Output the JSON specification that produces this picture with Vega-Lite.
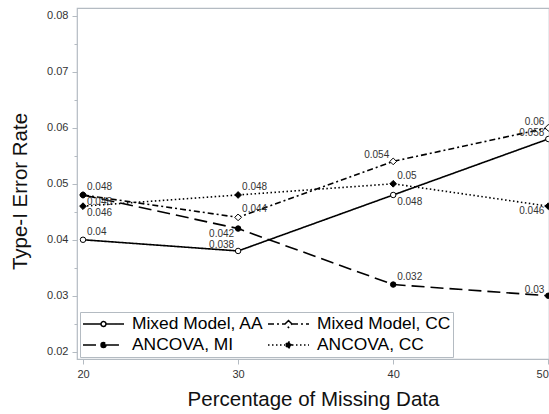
{
  "$schema": "https://vega.github.io/schema/vega-lite/v6.json",
  "width": 472,
  "height": 351,
  "autosize": {"type": "none"},
  "padding": {"left": 77, "top": 8, "right": 0, "bottom": 55},
  "background": "white",
  "config": {
    "font": "Liberation Sans",
    "view": {"stroke": "#b4bbc2", "strokeWidth": 1.2},
    "axis": {"domain": false, "grid": false, "tickColor": "#b4bbc2", "labelColor": "#333333", "labelFont": "Liberation Sans", "titleFont": "Liberation Sans", "titleFontWeight": "normal", "titleColor": "#111111"},
    "legend": {"title": null, "orient": "none", "legendX": 3, "legendY": 304, "columns": 2, "labelFontSize": 17.4, "labelColor": "black", "labelFont": "Liberation Sans", "symbolSize": 1681, "symbolStrokeColor": "black", "symbolStrokeWidth": 1.5, "symbolOpacity": 1, "fillColor": "white", "strokeColor": "#b4bbc2", "padding": 2, "columnPadding": 3, "rowPadding": 1, "clipHeight": 20, "labelOffset": 7, "labelLimit": 300}
  },
  "data": {"values": [
    {"series": "Mixed Model, AA", "pct": 20, "rate": 0.040},
    {"series": "Mixed Model, AA", "pct": 30, "rate": 0.038},
    {"series": "Mixed Model, AA", "pct": 40, "rate": 0.048},
    {"series": "Mixed Model, AA", "pct": 50, "rate": 0.058},
    {"series": "ANCOVA, MI", "pct": 20, "rate": 0.048},
    {"series": "ANCOVA, MI", "pct": 30, "rate": 0.042},
    {"series": "ANCOVA, MI", "pct": 40, "rate": 0.032},
    {"series": "ANCOVA, MI", "pct": 50, "rate": 0.030},
    {"series": "Mixed Model, CC", "pct": 20, "rate": 0.048},
    {"series": "Mixed Model, CC", "pct": 30, "rate": 0.044},
    {"series": "Mixed Model, CC", "pct": 40, "rate": 0.054},
    {"series": "Mixed Model, CC", "pct": 50, "rate": 0.060},
    {"series": "ANCOVA, CC", "pct": 20, "rate": 0.046},
    {"series": "ANCOVA, CC", "pct": 30, "rate": 0.048},
    {"series": "ANCOVA, CC", "pct": 40, "rate": 0.050},
    {"series": "ANCOVA, CC", "pct": 50, "rate": 0.046}
  ]},
  "encoding": {
    "x": {"field": "pct", "type": "quantitative",
      "scale": {"domain": [19.613, 50.045], "nice": false, "zero": false},
      "axis": {"values": [20, 30, 40, 50], "format": "d", "title": "Percentage of Missing Data", "titleFontSize": 20.5, "labelFontSize": 11, "tickSize": 5, "labelPadding": 4, "titlePadding": 10}},
    "y": {"field": "rate", "type": "quantitative",
      "scale": {"domain": [0.0187, 0.0814], "nice": false, "zero": false},
      "axis": {"values": [0.02, 0.025, 0.03, 0.035, 0.04, 0.045, 0.05, 0.055, 0.06, 0.065, 0.07, 0.075, 0.08],
        "labelExpr": "abs(datum.value*100 - round(datum.value*100)) > 0.01 ? '' : format(datum.value, '.2f')",
        "tickSize": {"condition": {"test": "abs(datum.value*100 - round(datum.value*100)) > 0.01", "value": 3}, "value": 5},
        "title": "Type-I Error Rate", "titleFontSize": 20.5, "labelFontSize": 11, "labelPadding": 4, "titlePadding": 16, "titleY": 183}}
  },
  "layer": [
    {
      "mark": {"type": "line", "color": "black", "strokeWidth": 1.6},
      "encoding": {
        "strokeDash": {"field": "series", "type": "nominal",
          "scale": {"domain": ["Mixed Model, AA", "ANCOVA, MI", "Mixed Model, CC", "ANCOVA, CC"], "range": [[1, 0], [13, 6], [6, 3, 2, 3], [1.5, 2.5]]}}
      }
    },
    {
      "transform": [{"filter": {"field": "series", "oneOf": ["Mixed Model, CC", "ANCOVA, CC"]}}],
      "mark": {"type": "point", "shape": "diamond", "filled": true, "size": 45, "stroke": "black", "strokeWidth": 1, "opacity": 1},
      "encoding": {
        "fill": {"field": "series", "type": "nominal",
          "scale": {"domain": ["Mixed Model, AA", "ANCOVA, MI", "Mixed Model, CC", "ANCOVA, CC"], "range": ["white", "black", "white", "black"]}}
      }
    },
    {
      "transform": [{"filter": {"field": "series", "oneOf": ["Mixed Model, AA", "ANCOVA, MI"]}}],
      "mark": {"type": "point", "shape": "circle", "filled": true, "size": 30, "stroke": "black", "strokeWidth": 1, "opacity": 1},
      "encoding": {
        "fill": {"field": "series", "type": "nominal"}
      }
    },
    {
      "transform": [{"filter": "(datum.series=='Mixed Model, AA' && datum.pct==20) || (datum.series=='ANCOVA, MI' && (datum.pct==20 || datum.pct==40)) || (datum.series=='Mixed Model, CC' && datum.pct==30) || (datum.series=='ANCOVA, CC' && (datum.pct==30 || datum.pct==40))"}],
      "mark": {"type": "text", "align": "left", "baseline": "alphabetic", "dx": 4, "dy": -5, "fontSize": 10, "color": "#333333"},
      "encoding": {"text": {"field": "rate", "type": "quantitative", "format": ".3~f"}}
    },
    {
      "transform": [{"filter": "(datum.series=='Mixed Model, AA' && (datum.pct==30 || datum.pct==50)) || (datum.series=='ANCOVA, MI' && datum.pct==50) || (datum.series=='Mixed Model, CC' && (datum.pct==40 || datum.pct==50))"}],
      "mark": {"type": "text", "align": "right", "baseline": "alphabetic", "dx": -4, "dy": -3, "fontSize": 10, "color": "#333333"},
      "encoding": {"text": {"field": "rate", "type": "quantitative", "format": ".3~f"}}
    },
    {
      "transform": [{"filter": "(datum.series=='Mixed Model, AA' && datum.pct==40) || (datum.pct==20 && (datum.series=='Mixed Model, CC' || datum.series=='ANCOVA, CC'))"}],
      "mark": {"type": "text", "align": "left", "baseline": "alphabetic", "dx": 4, "dy": 10, "fontSize": 10, "color": "#333333"},
      "encoding": {"text": {"field": "rate", "type": "quantitative", "format": ".3~f"}}
    },
    {
      "transform": [{"filter": "(datum.series=='ANCOVA, MI' && datum.pct==30) || (datum.series=='ANCOVA, CC' && datum.pct==50)"}],
      "mark": {"type": "text", "align": "right", "baseline": "alphabetic", "dx": -4, "dy": 8, "fontSize": 10, "color": "#333333"},
      "encoding": {"text": {"field": "rate", "type": "quantitative", "format": ".3~f"}}
    },
    {
      "transform": [{"filter": "datum.pct > 1000"}],
      "mark": {"type": "point", "filled": true, "strokeWidth": 1.5, "size": 1681, "opacity": 1},
      "encoding": {
        "shape": {"field": "series", "type": "nominal",
          "scale": {"domain": ["Mixed Model, AA", "ANCOVA, MI", "Mixed Model, CC", "ANCOVA, CC"],
            "range": [
              "M-1,0L-0.12,0M0.12,0L1,0M0.12,0A0.12,0.12,0,1,1,-0.12,0A0.12,0.12,0,1,1,0.12,0Z",
              "M-1,0L-0.12,0M0.12,0L1,0M0.12,0A0.12,0.12,0,1,1,-0.12,0A0.12,0.12,0,1,1,0.12,0Z",
              "M-1,0L-0.17,0M0.17,0L1,0M0,-0.17L0.17,0L0,0.17L-0.17,0Z",
              "M-1,0L-0.17,0M0.17,0L1,0M0,-0.17L0.17,0L0,0.17L-0.17,0Z"
            ]},
          "legend": {"encode": {"symbols": {"update": {"stroke": {"value": "black"}, "strokeWidth": {"value": 1.5}, "opacity": {"value": 1}}}}}},
        "stroke": {"field": "series", "type": "nominal",
          "scale": {"domain": ["Mixed Model, AA", "ANCOVA, MI", "Mixed Model, CC", "ANCOVA, CC"], "range": ["black", "black", "black", "black"]},
          "legend": {"encode": {"symbols": {"update": {"stroke": {"value": "black"}, "strokeWidth": {"value": 1.5}, "opacity": {"value": 1}}}}}},
        "fill": {"field": "series", "type": "nominal",
          "legend": {"encode": {"symbols": {"update": {"stroke": {"value": "black"}, "strokeWidth": {"value": 1.5}, "opacity": {"value": 1}}}}}},
        "strokeDash": {"field": "series", "type": "nominal",
          "legend": {"encode": {"symbols": {"update": {"stroke": {"value": "black"}, "strokeWidth": {"value": 1.5}, "opacity": {"value": 1}}}}}}
      }
    }
  ]
}
